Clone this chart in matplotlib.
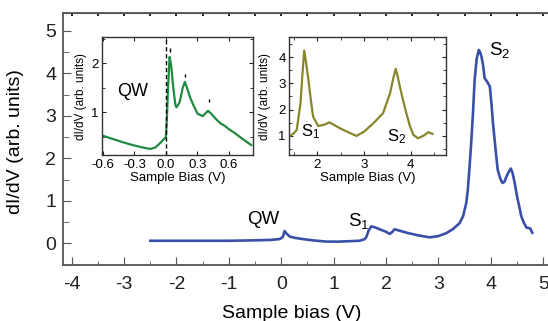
import numpy as np
import matplotlib
matplotlib.use('Agg')
import matplotlib.pyplot as plt
from matplotlib.ticker import MultipleLocator, NullFormatter

plt.rcParams['font.family'] = ['Liberation Sans', 'DejaVu Sans']
plt.rcParams['mathtext.fontset'] = 'custom'
plt.rcParams['mathtext.rm'] = 'Liberation Sans'
plt.rcParams['mathtext.it'] = 'Liberation Sans:italic'
plt.rcParams['axes.unicode_minus'] = False

# main spectrum (blue)
bias = [-2.5, -2.0, -1.5, -1.0, -0.5, -0.2, -0.03, 0.03, 0.063, 0.1, 0.16, 0.25, 0.41,
        0.6, 0.86, 1.1, 1.3, 1.49, 1.58, 1.62, 1.67, 1.72, 1.8, 1.88, 2.0, 2.07, 2.12,
        2.16, 2.25, 2.39, 2.6, 2.83, 3.0, 3.15, 3.27, 3.4, 3.47, 3.53, 3.56, 3.59, 3.62,
        3.66, 3.69, 3.73, 3.77, 3.8, 3.82, 3.85, 3.88, 3.93, 3.98, 4.01, 4.04, 4.09, 4.13,
        4.18, 4.22, 4.26, 4.29, 4.34, 4.38, 4.41, 4.45, 4.5, 4.58, 4.63, 4.68, 4.72, 4.75, 4.79]
didv = [0.06, 0.06, 0.06, 0.06, 0.07, 0.08, 0.10, 0.15, 0.29, 0.23, 0.16, 0.13, 0.10,
        0.07, 0.04, 0.04, 0.05, 0.06, 0.09, 0.14, 0.31, 0.40, 0.37, 0.33, 0.27, 0.22, 0.27,
        0.33, 0.30, 0.25, 0.19, 0.14, 0.17, 0.24, 0.33, 0.47, 0.64, 0.95, 1.26, 1.75, 2.28,
        3.1, 3.85, 4.35, 4.55, 4.48, 4.4, 4.2, 3.89, 3.8, 3.69, 3.3, 2.83, 2.2, 1.73,
        1.52, 1.42, 1.45, 1.55, 1.68, 1.76, 1.67, 1.45, 1.1, 0.64, 0.48, 0.37, 0.36, 0.35, 0.25]

# inset 1: quantum well region (green)
qw_bias = [-0.6, -0.5, -0.4, -0.3, -0.2, -0.15, -0.1, -0.05, -0.01, 0.0, 0.01, 0.02, 0.035,
           0.05, 0.07, 0.09, 0.1, 0.13, 0.16, 0.18, 0.2, 0.23, 0.26, 0.3, 0.35, 0.4, 0.43,
           0.48, 0.52, 0.56, 0.6, 0.65, 0.7, 0.75, 0.81]
qw_didv = [0.52, 0.45, 0.38, 0.32, 0.27, 0.25, 0.28, 0.38, 0.47, 0.5, 0.9, 1.5, 2.13,
           1.95, 1.5, 1.15, 1.10, 1.2, 1.5, 1.62, 1.5, 1.3, 1.15, 0.97, 0.92, 1.03, 0.97,
           0.85, 0.77, 0.72, 0.65, 0.58, 0.5, 0.42, 0.33]
qw_peak_x = [0.038, 0.186, 0.41]
qw_mark_lo = [2.22, 1.72, 1.2]
qw_mark_hi = [2.31, 1.79, 1.27]

# inset 2: surface states (olive)
ss_bias = [1.40, 1.5, 1.56, 1.64, 1.68, 1.72, 1.76, 1.81, 1.86, 1.91, 2.02, 2.15, 2.26,
           2.49, 2.7, 2.84, 3.0, 3.2, 3.41, 3.56, 3.63, 3.68, 3.72, 3.77, 3.84, 3.91,
           3.98, 4.06, 4.16, 4.28, 4.38, 4.47]
ss_didv = [0.96, 1.1, 1.22, 2.24, 3.3, 4.26, 3.8, 3.13, 2.4, 1.73, 1.37, 1.42, 1.51,
           1.28, 1.1, 0.99, 1.15, 1.47, 1.86, 2.62, 3.2, 3.56, 3.3, 2.88, 2.35, 1.86,
           1.4, 1.03, 0.90, 1.0, 1.13, 1.07]

blue = '#3a4fa8'
green = '#1f8a40'
olive = '#86862c'
spine_c = '#555555'

fig = plt.figure(figsize=(5.48, 3.21), dpi=100)
ax = fig.add_axes([0.1155, 0.1745, 0.8845, 0.785])
ax.plot(bias, didv, color=blue, lw=1.9)
ax.set_xlim(-4.16, 5.09)
ax.set_ylim(-0.51, 5.42)
ax.xaxis.set_major_locator(MultipleLocator(1))
ax.xaxis.set_minor_locator(MultipleLocator(0.5))
ax.yaxis.set_major_locator(MultipleLocator(1))
ax.yaxis.set_minor_locator(MultipleLocator(0.5))
ax.tick_params(which='both', direction='in', colors='#222222', labelsize=14)
ax.tick_params(axis='x', which='major', length=6, pad=8, color=spine_c)
ax.tick_params(axis='x', which='minor', length=3, color=spine_c)
ax.tick_params(axis='y', which='major', length=6, pad=5, color=spine_c)
ax.tick_params(axis='y', which='minor', length=4, color=spine_c)
for s in ['left', 'bottom', 'top']:
    ax.spines[s].set_color(spine_c)
    ax.spines[s].set_linewidth(1.3)
ax.spines['right'].set_visible(False)
top = ax.secondary_xaxis('top')
top.xaxis.set_major_locator(MultipleLocator(0.5))
top.xaxis.set_major_formatter(NullFormatter())
top.tick_params(direction='in', length=2.5, width=1.4, color='#222222')
top.spines['top'].set_color(spine_c)

ax.set_xlabel('Sample bias (V)', fontsize=14)
ax.xaxis.set_label_coords(0.472, -0.16)
ax.set_ylabel('dI/dV (arb. units)', fontsize=14)
ax.yaxis.set_label_coords(-0.082, 0.49)

ax.text(-0.34, 0.55, 'QW', fontsize=13.5, ha='center', va='center')
ax.text(1.48, 0.52, 'S$_1$', fontsize=13.5, ha='center', va='center')
ax.text(4.17, 4.56, 'S$_2$', fontsize=13.5, ha='center', va='center')

# inset 1
ax1 = fig.add_axes([0.1856, 0.5162, 0.2766, 0.3676])
ax1.plot(qw_bias, qw_didv, color=green, lw=1.6)
ax1.axvline(0, color='k', ls=(0, (3, 2)), lw=1)
ax1.vlines(qw_peak_x, qw_mark_lo, qw_mark_hi, color='k', lw=1)
ax1.set_xlim(-0.61, 0.83)
ax1.set_ylim(0.12, 2.53)
ax1.set_xticks([-0.6, -0.3, 0.0, 0.3, 0.6])
ax1.set_xticklabels(['-0.6', '-0.3', '0.0', '0.3', '0.6'])
ax1.yaxis.set_major_locator(MultipleLocator(1))
ax1.yaxis.set_minor_locator(MultipleLocator(0.5))
ax1.text(-0.32, 1.42, 'QW', fontsize=13, ha='center', va='center')
ax1.set_xlabel('Sample Bias (V)', fontsize=9.5, labelpad=1)
ax1.set_ylabel('dI/dV (arb. units)', fontsize=8.5, labelpad=3)

# inset 2
ax2 = fig.add_axes([0.5279, 0.5156, 0.286, 0.3692])
ax2.plot(ss_bias, ss_didv, color=olive, lw=1.6)
ax2.set_xlim(1.40, 4.76)
ax2.set_ylim(0.24, 4.78)
ax2.xaxis.set_major_locator(MultipleLocator(1))
ax2.xaxis.set_minor_locator(MultipleLocator(0.5))
ax2.yaxis.set_major_locator(MultipleLocator(1))
ax2.yaxis.set_minor_locator(MultipleLocator(0.5))
ax2.text(1.865, 1.14, 'S$_1$', fontsize=12, ha='center', va='center')
ax2.text(3.69, 0.95, 'S$_2$', fontsize=12, ha='center', va='center')
ax2.set_xlabel('Sample Bias (V)', fontsize=9.5, labelpad=1)
ax2.set_ylabel('dI/dV (arb. units)', fontsize=8.5, labelpad=5)

for a in (ax1, ax2):
    a.tick_params(which='both', direction='in', top=True, right=True,
                  labelsize=9.5, pad=2.5, color='#222222')
    a.tick_params(which='major', length=3)
    a.tick_params(which='minor', length=2)
    for s in a.spines.values():
        s.set_color('#333333')
        s.set_linewidth(1)

fig.savefig('out.png', dpi=100)
